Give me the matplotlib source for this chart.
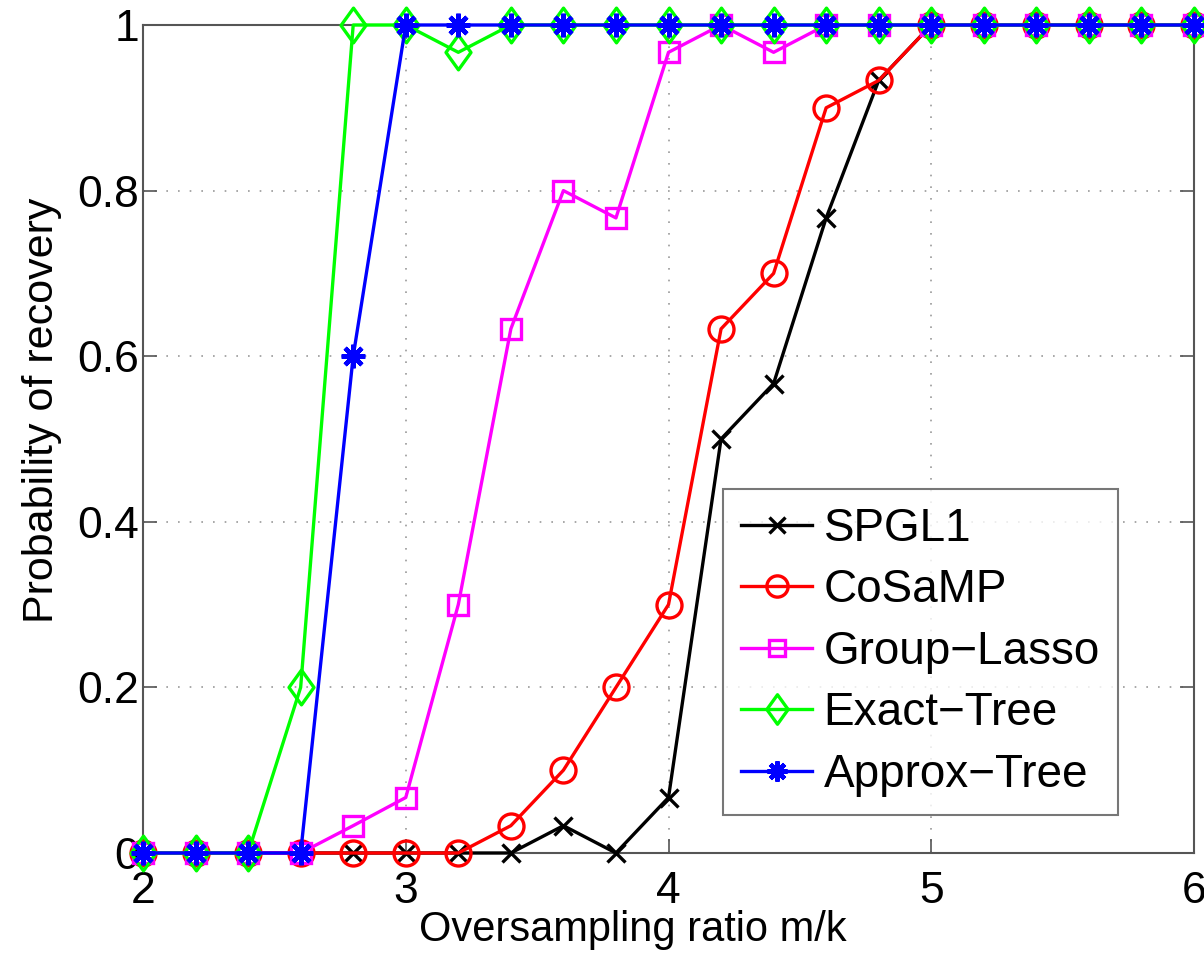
import matplotlib
matplotlib.use("Agg")
import matplotlib.pyplot as plt
from matplotlib.path import Path
import numpy as np

x = [2.0, 2.2, 2.4, 2.6, 2.8, 3.0, 3.2, 3.4, 3.6, 3.8, 4.0, 4.2, 4.4, 4.6, 4.8, 5.0, 5.2, 5.4, 5.6, 5.8, 6.0]
spgl1 = [0, 0, 0, 0, 0, 0, 0, 0, 0.033, 0, 0.067, 0.5, 0.567, 0.767, 0.933, 1, 1, 1, 1, 1, 1]
cosamp = [0, 0, 0, 0, 0, 0, 0, 0.033, 0.1, 0.2, 0.3, 0.633, 0.7, 0.9, 0.933, 1, 1, 1, 1, 1, 1]
group_lasso = [0, 0, 0, 0, 0.033, 0.067, 0.3, 0.633, 0.8, 0.767, 0.967, 1, 0.967, 1, 1, 1, 1, 1, 1, 1, 1]
exact_tree = [0, 0, 0, 0.2, 1, 1, 0.967, 1, 1, 1, 1, 1, 1, 1, 1, 1, 1, 1, 1, 1, 1]
approx_tree = [0, 0, 0, 0, 0.6, 1, 1, 1, 1, 1, 1, 1, 1, 1, 1, 1, 1, 1, 1, 1, 1]

xticks = [2, 3, 4, 5, 6]
yticks = [0, 0.2, 0.4, 0.6, 0.8, 1]
yticklabels = ["0", "0.2", "0.4", "0.6", "0.8", "1"]

plt.rcParams['font.family'] = ['Liberation Sans', 'DejaVu Sans']

fig = plt.figure(figsize=(12.04, 9.6), dpi=100)
ax = fig.add_axes([143/1204, 1 - 853/960, 1051/1204, 828/960])

diamond = Path([(0, 1), (0.72, 0), (0, -1), (-0.72, 0), (0, 1)],
               [Path.MOVETO, Path.LINETO, Path.LINETO, Path.LINETO, Path.CLOSEPOLY])

lw = 2.4
mew = 2.4
ax.plot(x, spgl1, color='black', marker='x', markersize=13, markeredgewidth=mew, lw=lw, label='SPGL1', clip_on=False, zorder=3)
ax.plot(x, cosamp, color='red', marker='o', markerfacecolor='none', markersize=18, markeredgewidth=mew, lw=lw, label='CoSaMP', clip_on=False, zorder=4)
ax.plot(x, group_lasso, color='magenta', marker='s', markerfacecolor='none', markersize=14, markeredgewidth=mew, lw=lw, label='Group\u2212Lasso', clip_on=False, zorder=5)
ax.plot(x, exact_tree, color='#00ff00', marker=diamond, markerfacecolor='none', markersize=25, markeredgewidth=mew, lw=lw, label='Exact\u2212Tree', clip_on=False, zorder=6)
ax.plot(x, approx_tree, color='blue', marker=(8, 2, 0), markersize=17, markeredgewidth=3.2, lw=lw, label='Approx\u2212Tree', clip_on=False, zorder=7)

ax.set_xlim(2, 6)
ax.set_ylim(0, 1)
ax.set_xticks(xticks)
ax.set_yticks(yticks)
ax.set_yticklabels(yticklabels)
ax.tick_params(direction='in', length=10, width=1.2, color='#555555', labelsize=32, top=True, right=True)
ax.tick_params(axis='x', pad=13)
ax.tick_params(axis='y', pad=3)
for s in ax.spines.values():
    s.set_color('#555555')
    s.set_linewidth(1.5)
ax.grid(True, linestyle=(0, (1, 6)), color='#999999', linewidth=1.2)
ax.set_axisbelow(True)

ax.set_xlabel('Oversampling ratio m/k', fontsize=30)
ax.xaxis.set_label_coords((633 - 143) / 1051, (853 - 910) / 828)
ax.set_ylabel('Probability of recovery', fontsize=31)
ax.yaxis.set_label_coords((62 - 143) / 1051, (853 - 410) / 828)

leg = ax.legend(loc='lower right', bbox_to_anchor=(0.928, 0.046), fontsize=33, frameon=True,
                fancybox=False, edgecolor='#555555', handlelength=1.55, handletextpad=0.25,
                labelspacing=0.38, borderpad=0.4, borderaxespad=0)
leg.get_frame().set_linewidth(1.5)
for h in leg.legend_handles:
    h.set_markersize(h.get_markersize() * 0.85)

fig.savefig('out.png', dpi=100)
